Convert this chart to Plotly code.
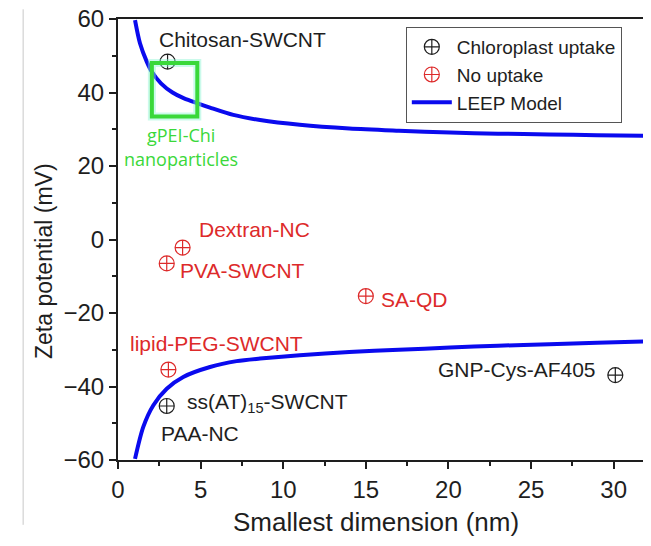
import plotly.graph_objects as go

# ---- data ----
uptake_names = ["Chitosan-SWCNT", "ss(AT)15-SWCNT / PAA-NC", "GNP-Cys-AF405"]
uptake_x = [3.0, 2.95, 30.1]
uptake_y = [48.4, -45.3, -36.9]

nouptake_names = ["Dextran-NC", "PVA-SWCNT", "SA-QD", "lipid-PEG-SWCNT"]
nouptake_x = [3.91, 2.95, 15.0, 3.05]
nouptake_y = [-2.2, -6.5, -15.4, -35.4]

leep_upper_x = [1.03, 1.33, 1.74, 2.04, 2.6, 3.3, 4.0, 4.86, 5.57, 6.98, 8.6, 11.0, 14.0, 17.0, 20.1, 23.0, 26.1, 29.0, 32.3]
leep_upper_y = [59.7, 53.4, 48.4, 45.7, 42.5, 40.0, 38.4, 37.0, 35.9, 33.9, 32.5, 31.2, 30.2, 29.6, 29.1, 28.8, 28.6, 28.4, 28.2]
leep_lower_x = [1.03, 1.53, 2.14, 2.95, 3.95, 5.57, 7.18, 8.6, 11.0, 14.0, 17.0, 20.1, 23.0, 26.1, 29.0, 32.3]
leep_lower_y = [-59.7, -51.0, -45.1, -40.6, -37.4, -34.7, -33.1, -32.4, -31.5, -30.6, -30.0, -29.4, -28.9, -28.5, -28.1, -27.7]

x_ticks = [0, 5, 10, 15, 20, 25, 30]
y_ticks = [-60, -40, -20, 0, 20, 40, 60]

FONT = "Arial, Liberation Sans, sans-serif"
RED = "#dd2a2a"
BLACK = "#1e1e1e"
BLUE = "#0a0aee"
GREEN = "#3ad83a"

fig = go.Figure()

fig.add_trace(go.Scatter(
    x=uptake_x, y=uptake_y, mode="markers", name="Chloroplast uptake",
    marker=dict(symbol="circle-cross-open", size=15, color=BLACK, line=dict(width=1.2, color=BLACK)),
    hovertext=uptake_names))
fig.add_trace(go.Scatter(
    x=nouptake_x, y=nouptake_y, mode="markers", name="No uptake",
    marker=dict(symbol="circle-cross-open", size=15, color=RED, line=dict(width=1.2, color=RED)),
    hovertext=nouptake_names))
fig.add_trace(go.Scatter(
    x=leep_upper_x, y=leep_upper_y, mode="lines", name="LEEP Model",
    line=dict(color=BLUE, width=4, shape="spline", smoothing=0.8)))
fig.add_trace(go.Scatter(
    x=leep_lower_x, y=leep_lower_y, mode="lines", name="LEEP Model", showlegend=False,
    line=dict(color=BLUE, width=4, shape="spline", smoothing=0.8)))

# point labels
labels = [
    ("Chitosan-SWCNT", 2.36, 54.3, BLACK, "left"),
    ("Dextran-NC", 4.76, 2.6, RED, "left"),
    ("PVA-SWCNT", 3.65, -8.5, RED, "left"),
    ("SA-QD", 15.8, -16.2, RED, "left"),
    ("lipid-PEG-SWCNT", 0.63, -28.3, RED, "left"),
    ("ss(AT)<sub>15</sub>-SWCNT", 4.06, -44.6, BLACK, "left"),
    ("PAA-NC", 2.5, -52.8, BLACK, "left"),
    ("GNP-Cys-AF405", 29.05, -35.5, BLACK, "right"),
]
for txt, lx, ly, col, anc in labels:
    fig.add_annotation(x=lx, y=ly, text=txt, showarrow=False, xanchor=anc, yanchor="middle",
                       font=dict(family=FONT, size=21, color=col))

fig.add_annotation(x=3.8, y=28.4, text="gPEI-Chi", showarrow=False, xanchor="center", yanchor="middle",
                   font=dict(family="Open Sans, sans-serif", size=18, color=GREEN))
fig.add_annotation(x=3.8, y=21.9, text="nanoparticles", showarrow=False, xanchor="center", yanchor="middle",
                   font=dict(family="Open Sans, sans-serif", size=18, color=GREEN))

# axis titles
fig.add_annotation(xref="paper", yref="paper", x=-0.139, y=0.451, text="Zeta potential (mV)",
                   textangle=-90, showarrow=False, xanchor="center", yanchor="middle",
                   font=dict(family=FONT, size=23, color=BLACK))
fig.add_annotation(xref="paper", yref="paper", x=0.484, y=-0.141, text="Smallest dimension (nm)",
                   showarrow=False, xanchor="center", yanchor="middle",
                   font=dict(family=FONT, size=26, color=BLACK))

# green highlight box (glow + box)
fig.add_shape(type="rect", x0=2.05, x1=4.8, y0=33.5, y1=48, xref="x", yref="y",
              line=dict(color="rgba(140,245,210,0.45)", width=8))
fig.add_shape(type="rect", x0=2.05, x1=4.8, y0=33.5, y1=48, xref="x", yref="y",
              line=dict(color=GREEN, width=4))

# thin gray border line at left of the picture
fig.add_shape(type="line", xref="paper", yref="paper", x0=-0.178, x1=-0.178, y0=-0.147, y1=1.022,
              line=dict(color="#c8c8c8", width=1))

# page body has an 8px margin, so the figure is 8px smaller and margins shifted
fig.update_layout(
    width=643, height=538,
    margin=dict(l=110, r=0, t=11, b=86, autoexpand=False),
    paper_bgcolor="white", plot_bgcolor="white",
    font=dict(family=FONT, size=20, color=BLACK),
    showlegend=True,
    legend=dict(x=0.540, y=0.982, xanchor="left", yanchor="top",
                bgcolor="white", bordercolor="#555555", borderwidth=1,
                font=dict(family=FONT, size=19, color=BLACK),
                tracegroupgap=0, itemwidth=40),
    xaxis=dict(range=[0, 32.26], tickvals=x_ticks, ticks="outside", ticklen=7, tickwidth=2,
               tickcolor=BLACK, showline=True, linecolor=BLACK, linewidth=2, mirror=True,
               showgrid=False, zeroline=False, automargin=False, ticklabeloverflow="allow",
               minor=dict(dtick=2.5, tick0=0, ticks="outside", ticklen=4, tickwidth=2, tickcolor=BLACK),
               tickfont=dict(family=FONT, size=24, color=BLACK)),
    yaxis=dict(range=[-60, 60], tickvals=y_ticks, ticks="outside", ticklen=7, tickwidth=2,
               tickcolor=BLACK, showline=True, linecolor=BLACK, linewidth=2, mirror=False,
               showgrid=False, zeroline=False, automargin=False, ticklabeloverflow="allow",
               minor=dict(dtick=10, tick0=0, ticks="outside", ticklen=4, tickwidth=2, tickcolor=BLACK),
               tickfont=dict(family=FONT, size=24, color=BLACK)),
)

fig.write_html("out.html")
